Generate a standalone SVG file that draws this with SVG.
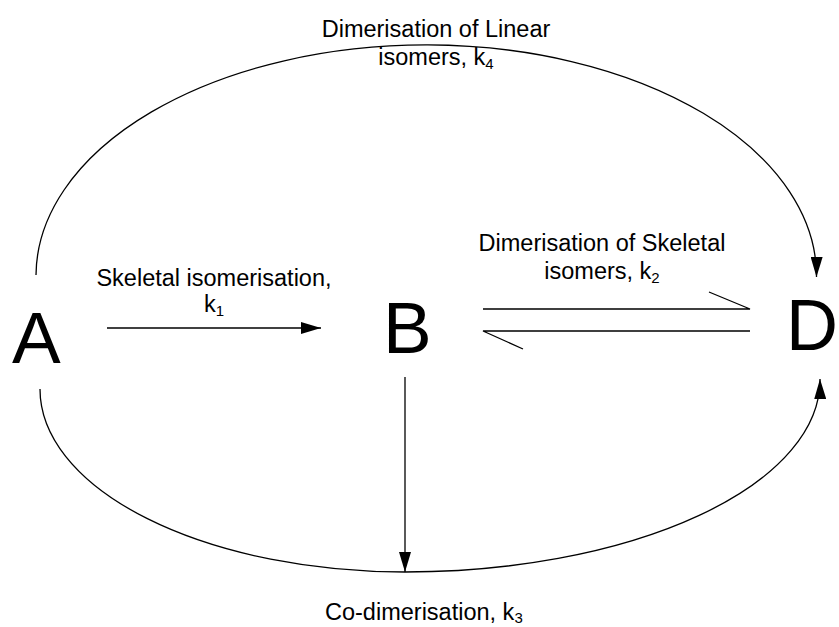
<svg xmlns="http://www.w3.org/2000/svg" width="839" height="627" viewBox="0 0 839 627">
  <defs>
    <marker id="arrow" viewBox="0 0 20 12" refX="20" refY="6" markerWidth="20" markerHeight="12" markerUnits="userSpaceOnUse" orient="auto">
      <path d="M0,0 L20,6 L0,12 Z" fill="#000"/>
    </marker>
    <style>
      .node { font-family: "Liberation Sans", Arial, sans-serif; font-size: 73px; fill: #000; }
      .lbl { font-family: "Liberation Sans", Arial, sans-serif; font-size: 23.5px; fill: #000; }
      .sub { font-size: 15px; }
      .conn { fill: none; stroke: #000; stroke-width: 1.3; }
      .arr { marker-end: url(#arrow); }
    </style>
  </defs>
  <rect width="839" height="627" fill="#fff"/>

  <g id="connectors">
    <path id="k4-arc" class="conn arr" d="M36,275 A390,231 0 0 1 816.5,277"/>
    <path id="k3-arc" class="conn arr" d="M40,389 A365,183 0 0 0 405,572 A415,192 0 0 0 820,379"/>
    <path id="k1-arrow" class="conn arr" d="M107,328 L321,328"/>
    <path id="b-down" class="conn arr" d="M405,377 L405,572"/>
    <path id="eq-forward" class="conn" d="M483,309 L750,309 L709,292"/>
    <path id="eq-back" class="conn" d="M750,331 L483,331 L523,349"/>
  </g>

  <g id="node-A"><text class="node" x="12" y="363">A</text></g>
  <g id="node-B"><text class="node" x="383" y="353">B</text></g>
  <g id="node-D"><text class="node" x="786" y="350" style="font-size:72px">D</text></g>

  <g id="label-k4">
    <text class="lbl" x="436" y="37" text-anchor="middle">Dimerisation of Linear</text>
    <text class="lbl" x="436" y="65" text-anchor="middle">isomers, k<tspan class="sub" dy="4">4</tspan></text>
  </g>
  <g id="label-k1">
    <text class="lbl" x="214" y="286" text-anchor="middle">Skeletal isomerisation,</text>
    <text class="lbl" x="214" y="312" text-anchor="middle">k<tspan class="sub" dy="4">1</tspan></text>
  </g>
  <g id="label-k2">
    <text class="lbl" x="602" y="251" text-anchor="middle">Dimerisation of Skeletal</text>
    <text class="lbl" x="602" y="279" text-anchor="middle">isomers, k<tspan class="sub" dy="4">2</tspan></text>
  </g>
  <g id="label-k3">
    <text class="lbl" x="325" y="620">Co-dimerisation, k<tspan class="sub" dy="3">3</tspan></text>
  </g>
</svg>
